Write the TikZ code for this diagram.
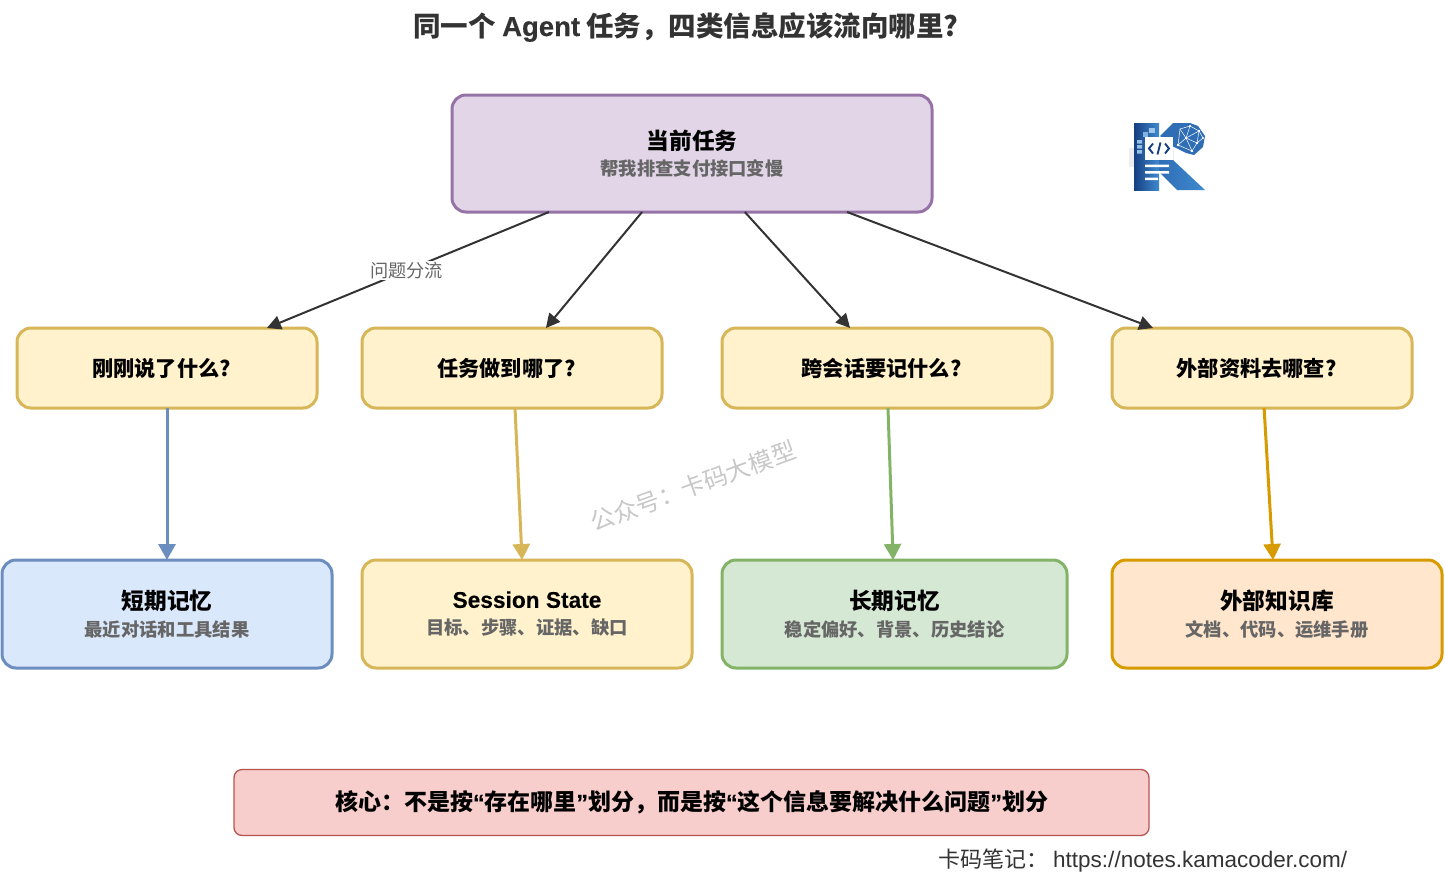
\documentclass[tikz,border=0pt]{standalone}
\usepackage{fontspec}
\usetikzlibrary{arrows.meta,calc}
\setmainfont{Liberation Sans}
\newfontfamily\cjk{Noto Sans CJK SC}
\newfontfamily\latbold[BoldFeatures={FakeBold=0.25}]{Liberation Sans}
\definecolor{pfill}{HTML}{E1D5E7}\definecolor{pline}{HTML}{9673A6}
\definecolor{yfill}{HTML}{FFF2CC}\definecolor{yline}{HTML}{D6B656}
\definecolor{bfill}{HTML}{DAE8FC}\definecolor{bline}{HTML}{6C8EBF}
\definecolor{gfill}{HTML}{D5E8D4}\definecolor{gline}{HTML}{82B366}
\definecolor{ofill}{HTML}{FFE6CC}\definecolor{oline}{HTML}{D79B00}
\definecolor{rfill}{HTML}{F8CECC}\definecolor{rline}{HTML}{B85450}
\definecolor{ink}{HTML}{333333}\definecolor{sub}{HTML}{666666}
\definecolor{logoA}{HTML}{153F82}\definecolor{logoB}{HTML}{3F8AD0}\definecolor{logoC}{HTML}{2F6DB5}
\tikzset{
 x=1pt,y=-1pt,
 card/.style={draw,line width=3pt,rounded corners=14pt,inner sep=0pt,outer sep=0pt,text=black,align=center},
 ptxt/.style={font=\cjk\bfseries\fontsize{21.2}{27}\selectfont},
 flow/.style={draw=ink,line width=2pt,-{Triangle[length=14pt,width=14pt]}},
 down/.style={line width=3pt,-{Triangle[length=16pt,width=17pt]}},
}
\newcommand{\subt}[1]{{\cjk\bfseries\fontsize{18.3}{24}\selectfont\color{sub}#1}}
\newcommand{\head}[1]{{\cjk\bfseries\fontsize{22.7}{30}\selectfont #1}}
\newcommand{\lat}[1]{{\latbold\bfseries #1}}
\newcommand{\bx}[6]{\node[card,ptxt,draw=#5,fill=#6,minimum width=#3pt,minimum height=#4pt,anchor=north west] (#1) at (#2) }
\begin{document}
\begin{tikzpicture}
\useasboundingbox (0,0) rectangle (1445,875);
\node[text=ink,inner sep=0pt] (title) at (686,27) {\cjk\bfseries\fontsize{27.5}{30}\selectfont 同一个 \lat{Agent} 任务，四类信息应该流向哪里?};
\bx{cur}{452,95}{480}{117}{pline}{pfill} {\head{当前任务}\\[-.5pt]\subt{帮我排查支付接口变慢}};
\bx{q1}{17,328}{300}{80}{yline}{yfill} {刚刚说了什么?\hspace{11pt}};
\bx{q2}{362,328}{300}{80}{yline}{yfill} {任务做到哪了?\hspace{11pt}};
\bx{q3}{722,328}{330}{80}{yline}{yfill} {跨会话要记什么?\hspace{11pt}};
\bx{q4}{1112,328}{300}{80}{yline}{yfill} {外部资料去哪查?\hspace{11pt}};
\bx{m1}{2,560}{330}{108}{bline}{bfill} {\head{短期记忆}\\[0pt]\subt{最近对话和工具结果}};
\bx{m2}{362,560}{330}{108}{yline}{yfill} {\head{\lat{Session State}}\\[0pt]\subt{目标、步骤、证据、缺口}};
\bx{m3}{722,560}{345}{108}{gline}{gfill} {\head{长期记忆}\\[0pt]\subt{稳定偏好、背景、历史结论}};
\bx{m4}{1112,560}{330}{108}{oline}{ofill} {\head{外部知识库}\\[0pt]\subt{文档、代码、运维手册}};
\node[draw=rline,fill=rfill,line width=1.3pt,outer sep=0pt,rounded corners=8pt,minimum width=915pt,minimum height=66pt,anchor=north west,text=black,font=\cjk\bfseries\fontsize{23}{27}\selectfont] (core) at (234,769.5) {\raisebox{-1pt}{核心：不是按\lat{“}存在哪里\lat{”}划分，而是按\lat{“}这个信息要解决什么问题\lat{”}划分}};
\node[anchor=west,text=ink,inner sep=0pt] (foot) at (938,860.5) {\cjk\fontsize{22}{26}\selectfont 卡码笔记：\hspace{5pt}{\normalfont\fontsize{22.5}{26}\selectfont https://notes.kamacoder.com/}};
\node[rotate=20,text=black!22,inner sep=0pt] (wm) at (693,486) {\cjk\fontsize{24}{28}\selectfont 公众号：卡码大模型};
% connectors
\draw[flow] ($(cur.south west)!.202!(cur.south east)$) -- node[pos=.505,fill=white,inner sep=1pt,text=sub] (lab) {\cjk\fontsize{18.2}{22}\selectfont 问题分流} ($(q1.north west)!.833!(q1.north east)$);
\draw[flow] ($(cur.south west)!.396!(cur.south east)$) -- ($(q2.north west)!.613!(q2.north east)$);
\draw[flow] ($(cur.south west)!.61!(cur.south east)$) -- ($(q3.north west)!.388!(q3.north east)$);
\draw[flow] ($(cur.south west)!.823!(cur.south east)$) -- ($(q4.north west)!.137!(q4.north east)$);
\draw[down,draw=bline,fill=bline] ($(q1.south west)!.5!(q1.south east)$) -- (m1.north);
\draw[down,draw=yline,fill=yline] ($(q2.south west)!.51!(q2.south east)$) -- ($(m2.north west)!.485!(m2.north east)$);
\draw[down,draw=gline,fill=gline] ($(q3.south west)!.503!(q3.south east)$) -- ($(m3.north west)!.496!(m3.north east)$);
\draw[down,draw=oline,fill=oline] ($(q4.south west)!.507!(q4.south east)$) -- ($(m4.north west)!.488!(m4.north east)$);
% logo
\fill[black!7] (1129,148) rectangle (1134,167);
\fill[logoC] (1173,123) -- (1190,123) -- (1198,126) -- (1205,136) -- (1203,147) -- (1194,155) -- (1186,153) -- (1172,146) -- (1160,136) -- cycle;
\shade[left color=logoA,right color=logoB] (1134,123) -- (1159,123) -- (1159,190) -- (1134,190) -- cycle;
\shade[left color=logoC,right color=logoB] (1159,137) -- (1173,137) -- (1173,160) -- (1205,190) -- (1177,190) -- (1159,172) -- cycle;
\foreach \a/\b/\c/\d in {1180/129/1190/126,1190/126/1199/131,1180/129/1186/138,1186/138/1199/131,1186/138/1178/145,1186/138/1197/143,1190/126/1186/138,1197/143/1192/151,1186/138/1192/151,1199/131/1197/143,1180/129/1178/145,1178/145/1192/151,1199/131/1203/138,1203/138/1197/143}{
 \draw[white,line width=.5pt] (\a,\b) -- (\c,\d);
 \fill[white] (\c,\d) circle (1.1pt);}
\fill[white] (1145,137) rectangle (1173,160);
\draw[logoA,line width=1.9pt] (1153,143.5) -- (1149,148.5) -- (1153,153.5) (1157.5,154.5) -- (1160.5,142.5) (1165,143.5) -- (1169,148.5) -- (1165,153.5);
\fill[white] (1145,164.5) rectangle (1169,167) (1145,171) rectangle (1169,173.5) (1145,177.5) rectangle (1158,180);
\fill[logoB!65] (1143,132) rectangle (1148,137);
\fill[logoB!50] (1149,128) rectangle (1155,133);
\fill[logoB!55] (1137,140) rectangle (1142,143.5) (1137,145) rectangle (1142,148.5) (1137,150) rectangle (1142,153.5);
\end{tikzpicture}
\end{document}
